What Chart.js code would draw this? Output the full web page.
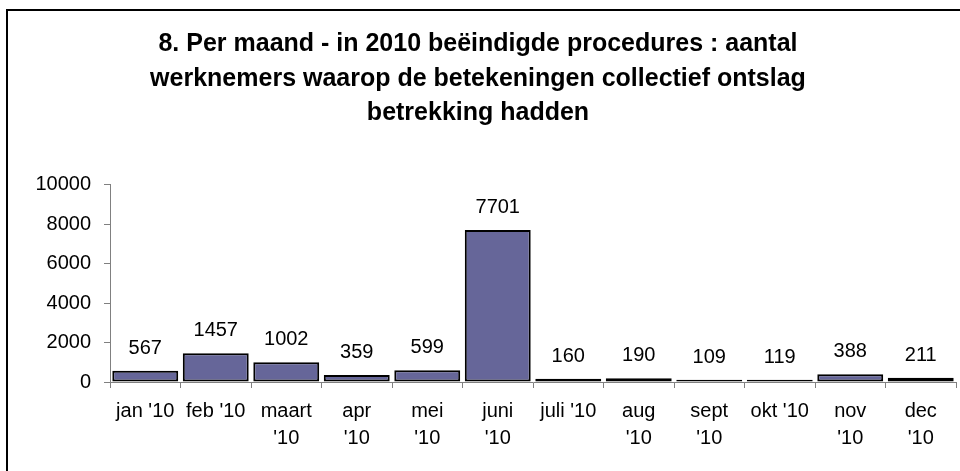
<!DOCTYPE html>
<html>
<head>
<meta charset="utf-8">
<script src="https://cdn.jsdelivr.net/npm/chart.js@4"></script>
<style>
  html, body { margin: 0; padding: 0; background: #fff; overflow: hidden; }
  #wrap { width: 960px; height: 471px; }
</style>
</head>
<body>
<div id="wrap"><canvas id="chart"></canvas></div>
<script>
// ── Data ────────────────────────────────────────────────────────
const titleLines = [
    '8. Per maand - in 2010 beëindigde procedures : aantal',
    'werknemers waarop de betekeningen collectief ontslag',
    'betrekking hadden',
];

const months = [
    "jan '10", "feb '10", ['maart', "'10"], ['apr', "'10"], ['mei', "'10"], ['juni', "'10"],
    "juli '10", ['aug', "'10"], ['sept', "'10"], "okt '10", ['nov', "'10"], ['dec', "'10"],
];

const workers = [567, 1457, 1002, 359, 599, 7701, 160, 190, 109, 119, 388, 211];

const yTicks = [0, 2000, 4000, 6000, 8000, 10000];

// ── Plugins ─────────────────────────────────────────────────────

// outer frame, runs off the right and bottom edge like the original
const framePlugin = {
    id: 'frame',
    beforeDraw(chart) {
        const ctx = chart.ctx;
        ctx.save();
        ctx.fillStyle = '#fff';
        ctx.fillRect(0, 0, chart.width, chart.height);
        ctx.strokeStyle = '#000';
        ctx.lineWidth = 2;
        ctx.strokeRect(7, 10, 1200, 1200);
        ctx.restore();
    },
};

// value above each bar
const valueLabels = {
    id: 'valueLabels',
    afterDatasetsDraw(chart) {
        const ctx = chart.ctx;
        const meta = chart.getDatasetMeta(0);
        ctx.save();
        ctx.font = "20px 'Liberation Sans', Arial, sans-serif";
        ctx.fillStyle = '#000';
        ctx.textAlign = 'center';
        ctx.textBaseline = 'alphabetic';
        meta.data.forEach((bar, i) => {
            ctx.fillText(String(workers[i]), bar.x, bar.y - 17);
        });
        ctx.restore();
    },
};

// ── Chart ───────────────────────────────────────────────────────

const axisGrey = '#808080';
const font = "'Liberation Sans', Arial, sans-serif";

new Chart(document.getElementById('chart'), {
    type: 'bar',
    data: {
        labels: months,
        datasets: [{
            label: 'Aantal werknemers',
            data: workers,
            backgroundColor: '#666699',
            borderColor: '#000',
            borderWidth: 2,
            borderSkipped: false,
            barPercentage: 0.935,
            categoryPercentage: 1,
        }],
    },
    options: {
        responsive: true,
        maintainAspectRatio: false,
        animation: false,
        layout: { padding: { left: 0, right: 4, top: 0, bottom: 0 } },
        plugins: {
            legend: { display: false },
            tooltip: { enabled: false },
            title: {
                display: true,
                text: titleLines,
                color: '#000',
                font: { family: font, size: 25, weight: 'bold', lineHeight: 1.38 },
                padding: { top: 27, bottom: 54 },
            },
        },
        scales: {
            x: {
                grid: {
                    offset: true,
                    drawOnChartArea: false,
                    tickLength: 6,
                    color: axisGrey,
                },
                border: { color: axisGrey, width: 1 },
                ticks: {
                    color: '#000',
                    font: { family: font, size: 20, lineHeight: 1.35 },
                    padding: 10,
                    maxRotation: 0,
                    autoSkip: false,
                },
                afterFit(scale) { scale.height = 89; },
            },
            y: {
                min: 0,
                max: 10000,
                afterBuildTicks(scale) { scale.ticks = yTicks.map(v => ({ value: v })); },
                grid: {
                    drawOnChartArea: false,
                    tickLength: 6,
                    color: axisGrey,
                },
                border: { color: axisGrey, width: 1 },
                ticks: {
                    color: '#000',
                    font: { family: font, size: 20 },
                    padding: 13,
                    callback: (v) => String(v),
                },
                afterFit(scale) { scale.width = 110; },
            },
        },
    },
    plugins: [framePlugin, valueLabels],
});
</script>
</body>
</html>
